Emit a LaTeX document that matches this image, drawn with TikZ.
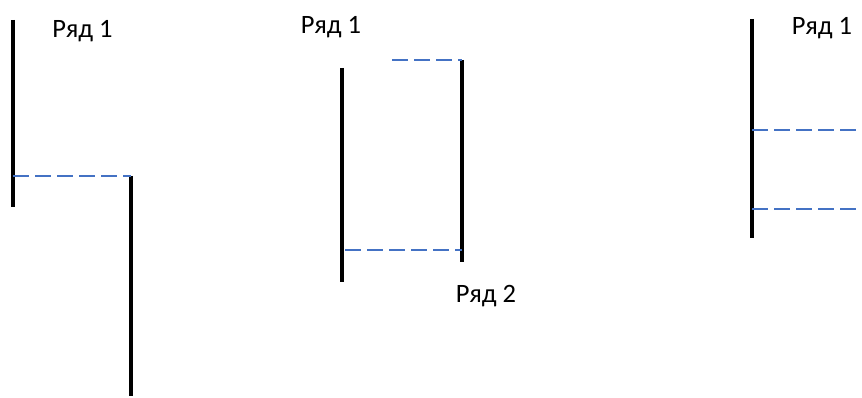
\documentclass[tikz,border=0pt]{standalone}
\usepackage{fontspec}
\setmainfont{Carlito}
\definecolor{levelblue}{HTML}{4472C4}
\tikzset{
  bar/.style={line width=4.5pt},
  level/.style={draw=levelblue, line width=1.5pt, dash pattern=on 16pt off 6pt},
  row/.style={font=\fontsize{26.5}{30}\selectfont, inner sep=0pt, anchor=base}
}
\begin{document}
\begin{tikzpicture}[x=1pt,y=-1pt]
      \useasboundingbox (0,0) rectangle (862,398);
      \draw
        (82.5,38) node[row] (row1a){Ряд 1}
        (331,34) node[row] (row1b){Ряд 1}
        (486,302) node[row] (row2){Ряд 2}
        (822,35) node[row] (row1c){Ряд 1};
      \coordinate (a1) at (13,20);
      \coordinate (a2) at (13,207);
      \coordinate (a3) at (13,176);
      \coordinate (b1) at (131,176);
      \coordinate (b2) at (131,396);
      \coordinate (c1) at (342,68);
      \coordinate (c2) at (342,282);
      \coordinate (c3) at (345,250);
      \coordinate (d1) at (462,60);
      \coordinate (d2) at (462,262);
      \coordinate (d3) at (462,250);
      \coordinate (e1) at (392,60);
      \coordinate (f1) at (752,19);
      \coordinate (f2) at (752,238);
      \coordinate (f3) at (752,130);
      \coordinate (f4) at (752,209);
      \coordinate (g3) at (862,130);
      \coordinate (g4) at (862,209);
      \begin{scope}[bar]
        \draw (a1) to (a2);
        \draw (b1) to (b2);
        \draw (c1) to (c2);
        \draw (d1) to (d2);
        \draw (f1) to (f2);
      \end{scope}
      \begin{scope}[level]
        \draw (a3) to (b1);
        \draw (e1) to (d1);
        \draw (c3) to (d3);
        \draw (f3) to (g3);
        \draw (f4) to (g4);
      \end{scope}
    \end{tikzpicture}
\end{document}
